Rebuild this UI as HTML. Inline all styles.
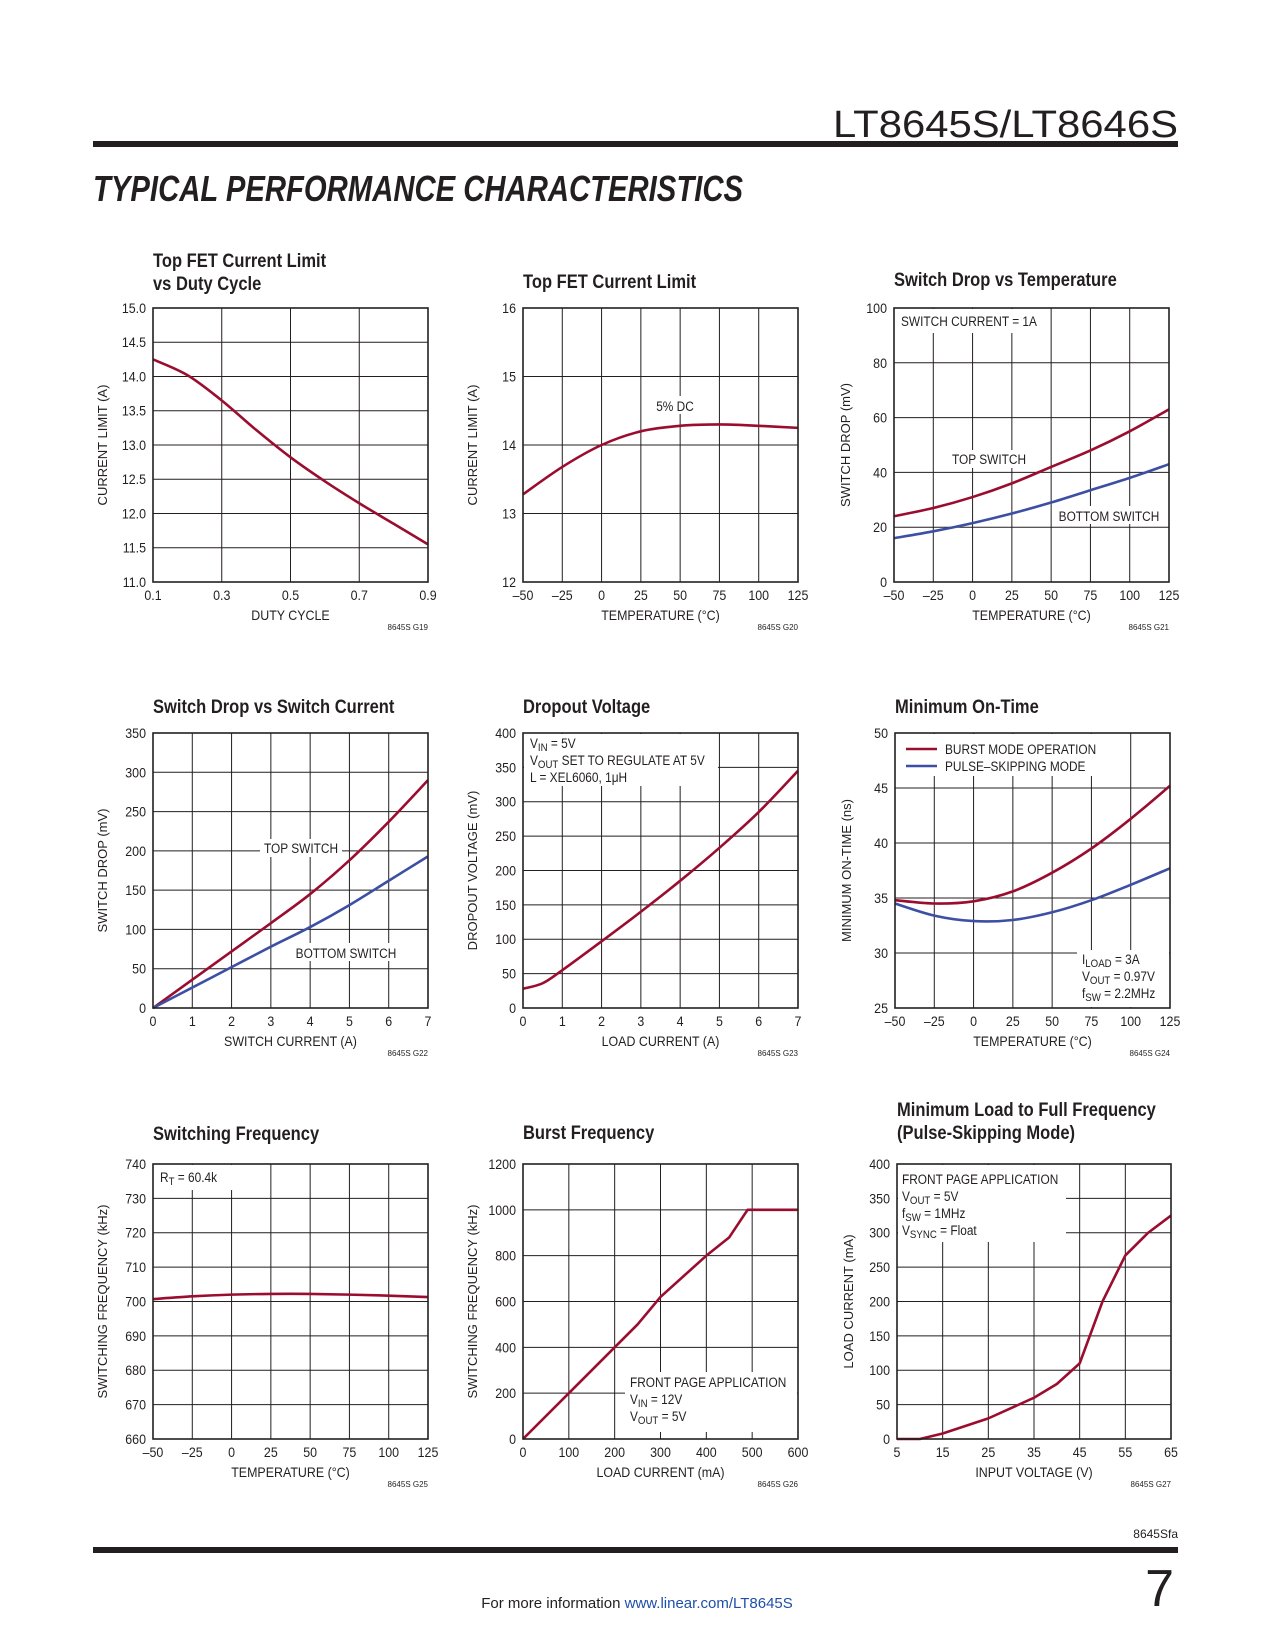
<!DOCTYPE html>
<html><head><meta charset="utf-8">
<style>
html,body{margin:0;padding:0;background:#fff;}
svg{display:block;}
text{font-family:"Liberation Sans Narrow","Liberation Sans",sans-serif;fill:#231f20;}
.t{font-family:"Liberation Sans Narrow","Liberation Sans",sans-serif;font-weight:bold;font-size:19px;}
</style></head>
<body>
<svg id="pg" xmlns="http://www.w3.org/2000/svg" width="1275" height="1650" viewBox="0 0 1275 1650">
<text x="1178" y="137" text-anchor="end" font-size="38" style="font-family:'Liberation Sans',sans-serif;font-weight:300;" textLength="345" lengthAdjust="spacingAndGlyphs">LT8645S/LT8646S</text>
<rect x="93" y="141" width="1085" height="6" fill="#231f20"/>
<text x="93" y="201" font-size="36" font-weight="bold" style="font-family:'Liberation Sans',sans-serif;font-style:italic;" textLength="650" lengthAdjust="spacingAndGlyphs">TYPICAL PERFORMANCE CHARACTERISTICS</text>
<text x="1178" y="1538" text-anchor="end" font-size="12">8645Sfa</text>
<rect x="93" y="1547" width="1085" height="6" fill="#231f20"/>
<text x="1174" y="1606" text-anchor="end" font-size="52" style="font-family:'Liberation Sans',sans-serif;font-weight:300;">7</text>
<text x="637" y="1608" text-anchor="middle" font-size="15">For more information <tspan fill="#1f4fa8">www.linear.com/LT8645S</tspan></text>
<g id="charts"></g>
</svg>
<script>
// ---------- data ----------
const c1X=[0.1,0.2,0.3,0.4,0.5,0.6,0.7,0.8,0.9];
const c1Y=[14.25,14.02,13.65,13.22,12.82,12.47,12.15,11.85,11.55];
const c1XT=[0.1,0.3,0.5,0.7,0.9];
const c1YT=[11,11.5,12,12.5,13,13.5,14,14.5,15];

const tempX=[-50,-25,0,25,50,75,100,125];
const tempT=[-50,-25,0,25,50,75,100,125];
const c2Y=[13.28,13.68,14.0,14.2,14.28,14.3,14.28,14.25];
const c2YT=[12,13,14,15,16];

const c3Top=[24,27,31,36,42,48,55,63];
const c3Bot=[16,18.5,21.5,25,29,33.5,38,43];
const c3YT=[0,20,40,60,80,100];

const c4X=[0,1,2,3,4,5,6,7];
const c4Top=[0,36,72,108,145,188,237,290];
const c4Bot=[0,26,52,78,103,131,162,193];
const c4XT=[0,1,2,3,4,5,6,7];
const c4YT=[0,50,100,150,200,250,300,350];

const c5X=[0,0.5,1,2,3,4,5,6,7];
const c5Y=[28,36,55,97,140,185,233,285,345];
const c5YT=[0,50,100,150,200,250,300,350,400];

const c6Burst=[34.8,34.5,34.7,35.6,37.3,39.5,42.2,45.2];
const c6Pulse=[34.5,33.4,32.9,33.0,33.7,34.8,36.2,37.7];
const c6YT=[25,30,35,40,45,50];

const c7Y=[700.7,701.5,702.0,702.2,702.2,702.0,701.7,701.3];
const c7YT=[660,670,680,690,700,710,720,730,740];

const c8X=[0,100,200,250,300,400,450,490,600];
const c8Y=[0,200,400,500,620,800,880,1000,1000];
const c8XT=[0,100,200,300,400,500,600];
const c8YT=[0,200,400,600,800,1000,1200];

const c9X=[5,10,15,25,35,40,45,50,55,60,65];
const c9Y=[0,0,8,30,60,80,110,200,267,300,325];
const c9XT=[5,15,25,35,45,55,65];
const c9YT=[0,50,100,150,200,250,300,350,400];

// ---------- helpers ----------
const NS='http://www.w3.org/2000/svg';
const root=document.getElementById('charts');
const RED='#9b0d2f', BLUE='#3c4fa3';
function mk(tag,parent){const e=document.createElementNS(NS,tag);parent.appendChild(e);return e;}
function at(e,o){for(const k in o)e.setAttribute(k,o[k]);return e;}
function squeeze(x,k){return 'translate('+x+',0) scale('+k+',1) translate('+(-x)+',0)';}
function smoothPath(pts){
  let d='M'+pts[0][0]+','+pts[0][1];
  for(let i=0;i<pts.length-1;i++){
    const p0=pts[i-1]||pts[i],p1=pts[i],p2=pts[i+1],p3=pts[i+2]||p2;
    const c1=[p1[0]+(p2[0]-p0[0])/6,p1[1]+(p2[1]-p0[1])/6];
    const c2=[p2[0]-(p3[0]-p1[0])/6,p2[1]-(p3[1]-p1[1])/6];
    d+=' C'+c1[0]+','+c1[1]+' '+c2[0]+','+c2[1]+' '+p2[0]+','+p2[1];
  }
  return d;
}
function chart(c){
  const g=mk('g',root);
  
  
  const sx=v=>c.L+(v-c.xmin)/(c.xmax-c.xmin)*(c.R-c.L);
  const sy=v=>c.B-(v-c.ymin)/(c.ymax-c.ymin)*(c.B-c.T);
  c.sx=sx;c.sy=sy;c.g=g;
  c.title.forEach((t,i)=>{
    const e=at(mk('text',g),{x:c.L,y:c.ty+i*23,'class':'t',transform:squeeze(c.L,0.87)});
    e.textContent=t;
    
    
  });
  const grid=mk('g',g);
  
  
  c.xt.forEach(v=>{const l=at(mk('line',grid),{x1:sx(v),x2:sx(v),y1:c.T,y2:c.B,stroke:'#231f20','stroke-width':1});
    });
  c.yt.forEach(v=>{const l=at(mk('line',grid),{x1:c.L,x2:c.R,y1:sy(v),y2:sy(v),stroke:'#231f20','stroke-width':1});
    });
  c.xt.forEach(v=>{const e=at(mk('text',g),{x:sx(v),y:c.B+18,'text-anchor':'middle','font-size':13.5,transform:squeeze(sx(v),0.92)});
    e.textContent=c.xf(v);});
  c.yt.forEach(v=>{const e=at(mk('text',g),{x:c.L-7,y:sy(v)+5,'text-anchor':'end','font-size':13.5,transform:squeeze(c.L-7,0.92)});
    e.textContent=c.yf(v);});
  const xm=(c.L+c.R)/2;
  const xt=at(mk('text',g),{x:xm,y:c.B+38,'text-anchor':'middle','font-size':13.5,transform:squeeze(xm,0.92)});
  xt.textContent=c.xtitle;
  const ymid=(c.T+c.B)/2, yx=c.L-(c.yoff||46);
  const yt=at(mk('text',g),{x:yx,y:ymid,'text-anchor':'middle','font-size':13,transform:'rotate(-90 '+yx+' '+ymid+')'});
  yt.textContent=c.ytitle;
  const cd=at(mk('text',g),{x:c.R,y:c.B+48,'text-anchor':'end','font-size':8});
  cd.textContent=c.code;
  return c;
}
function series(c,xs,ys,color,name,smooth){
  const pts=xs.map((x,i)=>[c.sx(x),c.sy(ys[i])]);
  const p=at(mk('path',c.g),{d:smooth?smoothPath(pts):'M'+pts.map(p=>p.join(',')).join(' L'),fill:'none',stroke:color,'stroke-width':2.6,'stroke-linejoin':'round'});
  
  
}
function frame(c){
  const r=at(mk('rect',c.g),{x:c.L,y:c.T,width:c.R-c.L,height:c.B-c.T,fill:'none',stroke:'#231f20','stroke-width':1.6});
  
}
function note(c,x,y,w,h,lines,tx,ty,lh,anchor,name){
  const g=mk('g',c.g);
  
  
  at(mk('rect',g),{x:x,y:y,width:w,height:h,fill:'#fff'});
  lines.forEach((s,i)=>{const e=at(mk('text',g),{x:tx,y:ty+i*lh,'font-size':13.5,'text-anchor':anchor||'start',transform:squeeze(tx,0.88)});e.innerHTML=s;});
  return g;
}
const sub=s=>'<tspan dy="3" font-size="11">'+s+'</tspan><tspan dy="-3"> </tspan>';
const f1=v=>v.toFixed(1), f0=v=>String(v), ft=v=>v<0?'\u2013'+(-v):String(v);

// ---------- charts ----------
let C;
C=chart({name:'chart-current-limit-vs-duty',L:153,R:428,T:308,B:582,xmin:0.1,xmax:0.9,ymin:11,ymax:15,xt:c1XT,yt:c1YT,xf:f1,yf:f1,
  title:['Top FET Current Limit','vs Duty Cycle'],ty:267,xtitle:'DUTY CYCLE',ytitle:'CURRENT LIMIT (A)',code:'8645S G19'});
series(C,c1X,c1Y,RED,'current-limit-curve',true);frame(C);

C=chart({name:'chart-current-limit-vs-temp',L:523,R:798,T:308,B:582,xmin:-50,xmax:125,ymin:12,ymax:16,xt:tempT,yt:c2YT,xf:ft,yf:f0,
  title:['Top FET Current Limit'],ty:288,xtitle:'TEMPERATURE (\u00B0C)',ytitle:'CURRENT LIMIT (A)',code:'8645S G20'});
note(C,650,396,50,18,['5% DC'],675,411,16,'middle','label-5pct-dc');
series(C,tempX,c2Y,RED,'current-limit-temp-curve',true);frame(C);

C=chart({name:'chart-switch-drop-vs-temp',L:894,R:1169,T:308,B:582,xmin:-50,xmax:125,ymin:0,ymax:100,xt:tempT,yt:c3YT,xf:ft,yf:f0,
  title:['Switch Drop vs Temperature'],ty:286,xtitle:'TEMPERATURE (\u00B0C)',ytitle:'SWITCH DROP (mV)',code:'8645S G21',yoff:44});
note(C,895,309,155,24,['SWITCH CURRENT = 1A'],901,326,16,'start','label-switch-current');
note(C,948,450,82,18,['TOP SWITCH'],989,464,16,'middle','label-top-switch');
note(C,1052,506,114,18,['BOTTOM SWITCH'],1109,521,16,'middle','label-bottom-switch');
series(C,tempX,c3Top,RED,'top-switch-curve',true);series(C,tempX,c3Bot,BLUE,'bottom-switch-curve',true);frame(C);

C=chart({name:'chart-switch-drop-vs-current',L:153,R:428,T:733,B:1008,xmin:0,xmax:7,ymin:0,ymax:350,xt:c4XT,yt:c4YT,xf:f0,yf:f0,
  title:['Switch Drop vs Switch Current'],ty:713,xtitle:'SWITCH CURRENT (A)',ytitle:'SWITCH DROP (mV)',code:'8645S G22'});
note(C,260,839,82,18,['TOP SWITCH'],301,853,16,'middle','label-top-switch');
note(C,290,943,112,18,['BOTTOM SWITCH'],346,958,16,'middle','label-bottom-switch');
series(C,c4X,c4Top,RED,'top-switch-curve',true);series(C,c4X,c4Bot,BLUE,'bottom-switch-curve',true);frame(C);

C=chart({name:'chart-dropout-voltage',L:523,R:798,T:733,B:1008,xmin:0,xmax:7,ymin:0,ymax:400,xt:c4XT,yt:c5YT,xf:f0,yf:f0,
  title:['Dropout Voltage'],ty:713,xtitle:'LOAD CURRENT (A)',ytitle:'DROPOUT VOLTAGE (mV)',code:'8645S G23'});
note(C,524,734,194,52,['V'+sub('IN')+'= 5V','V'+sub('OUT')+'SET TO REGULATE AT 5V','L = XEL6060, 1\u03BCH'],530,748,17,'start','conditions-box');
series(C,c5X,c5Y,RED,'dropout-curve',true);frame(C);

C=chart({name:'chart-minimum-on-time',L:895,R:1170,T:733,B:1008,xmin:-50,xmax:125,ymin:25,ymax:50,xt:tempT,yt:c6YT,xf:ft,yf:f0,
  title:['Minimum On-Time'],ty:713,xtitle:'TEMPERATURE (\u00B0C)',ytitle:'MINIMUM ON-TIME (ns)',code:'8645S G24',yoff:44});
const lg=note(C,896,734,206,42,['BURST MODE OPERATION','PULSE\u2013SKIPPING MODE'],945,754,17,'start','legend');
let l=at(mk('line',lg),{x1:906,x2:937,y1:749,y2:749,stroke:RED,'stroke-width':2.6});
l=at(mk('line',lg),{x1:906,x2:937,y1:766,y2:766,stroke:BLUE,'stroke-width':2.6});
note(C,1077,950,92,57,['I'+sub('LOAD')+'= 3A','V'+sub('OUT')+'= 0.97V','f'+sub('SW')+'= 2.2MHz'],1082,964,17,'start','conditions-box');
series(C,tempX,c6Burst,RED,'burst-mode-curve',true);series(C,tempX,c6Pulse,BLUE,'pulse-skipping-curve',true);frame(C);

C=chart({name:'chart-switching-frequency',L:153,R:428,T:1164,B:1439,xmin:-50,xmax:125,ymin:660,ymax:740,xt:tempT,yt:c7YT,xf:ft,yf:f0,
  title:['Switching Frequency'],ty:1140,xtitle:'TEMPERATURE (\u00B0C)',ytitle:'SWITCHING FREQUENCY (kHz)',code:'8645S G25'});
note(C,154,1165,80,25,['R'+sub('T')+'= 60.4k'],160,1182,16,'start','rt-label');
series(C,tempX,c7Y,RED,'frequency-curve',true);frame(C);

C=chart({name:'chart-burst-frequency',L:523,R:798,T:1164,B:1439,xmin:0,xmax:600,ymin:0,ymax:1200,xt:c8XT,yt:c8YT,xf:f0,yf:f0,
  title:['Burst Frequency'],ty:1139,xtitle:'LOAD CURRENT (mA)',ytitle:'SWITCHING FREQUENCY (kHz)',code:'8645S G26'});
note(C,625,1372,172,60,['FRONT PAGE APPLICATION','V'+sub('IN')+'= 12V','V'+sub('OUT')+'= 5V'],630,1387,17,'start','conditions-box');
series(C,c8X,c8Y,RED,'burst-frequency-curve',false);frame(C);

C=chart({name:'chart-minimum-load',L:897,R:1171,T:1164,B:1439,xmin:5,xmax:65,ymin:0,ymax:400,xt:c9XT,yt:c9YT,xf:f0,yf:f0,
  title:['Minimum Load to Full Frequency','(Pulse-Skipping Mode)'],ty:1116,xtitle:'INPUT VOLTAGE (V)',ytitle:'LOAD CURRENT (mA)',code:'8645S G27',yoff:44});
note(C,898,1165,168,77,['FRONT PAGE APPLICATION','V'+sub('OUT')+'= 5V','f'+sub('SW')+'= 1MHz','V'+sub('SYNC')+'= Float'],902,1184,17,'start','conditions-box');
series(C,c9X,c9Y,RED,'minimum-load-curve',false);frame(C);
</script>
</body></html>
